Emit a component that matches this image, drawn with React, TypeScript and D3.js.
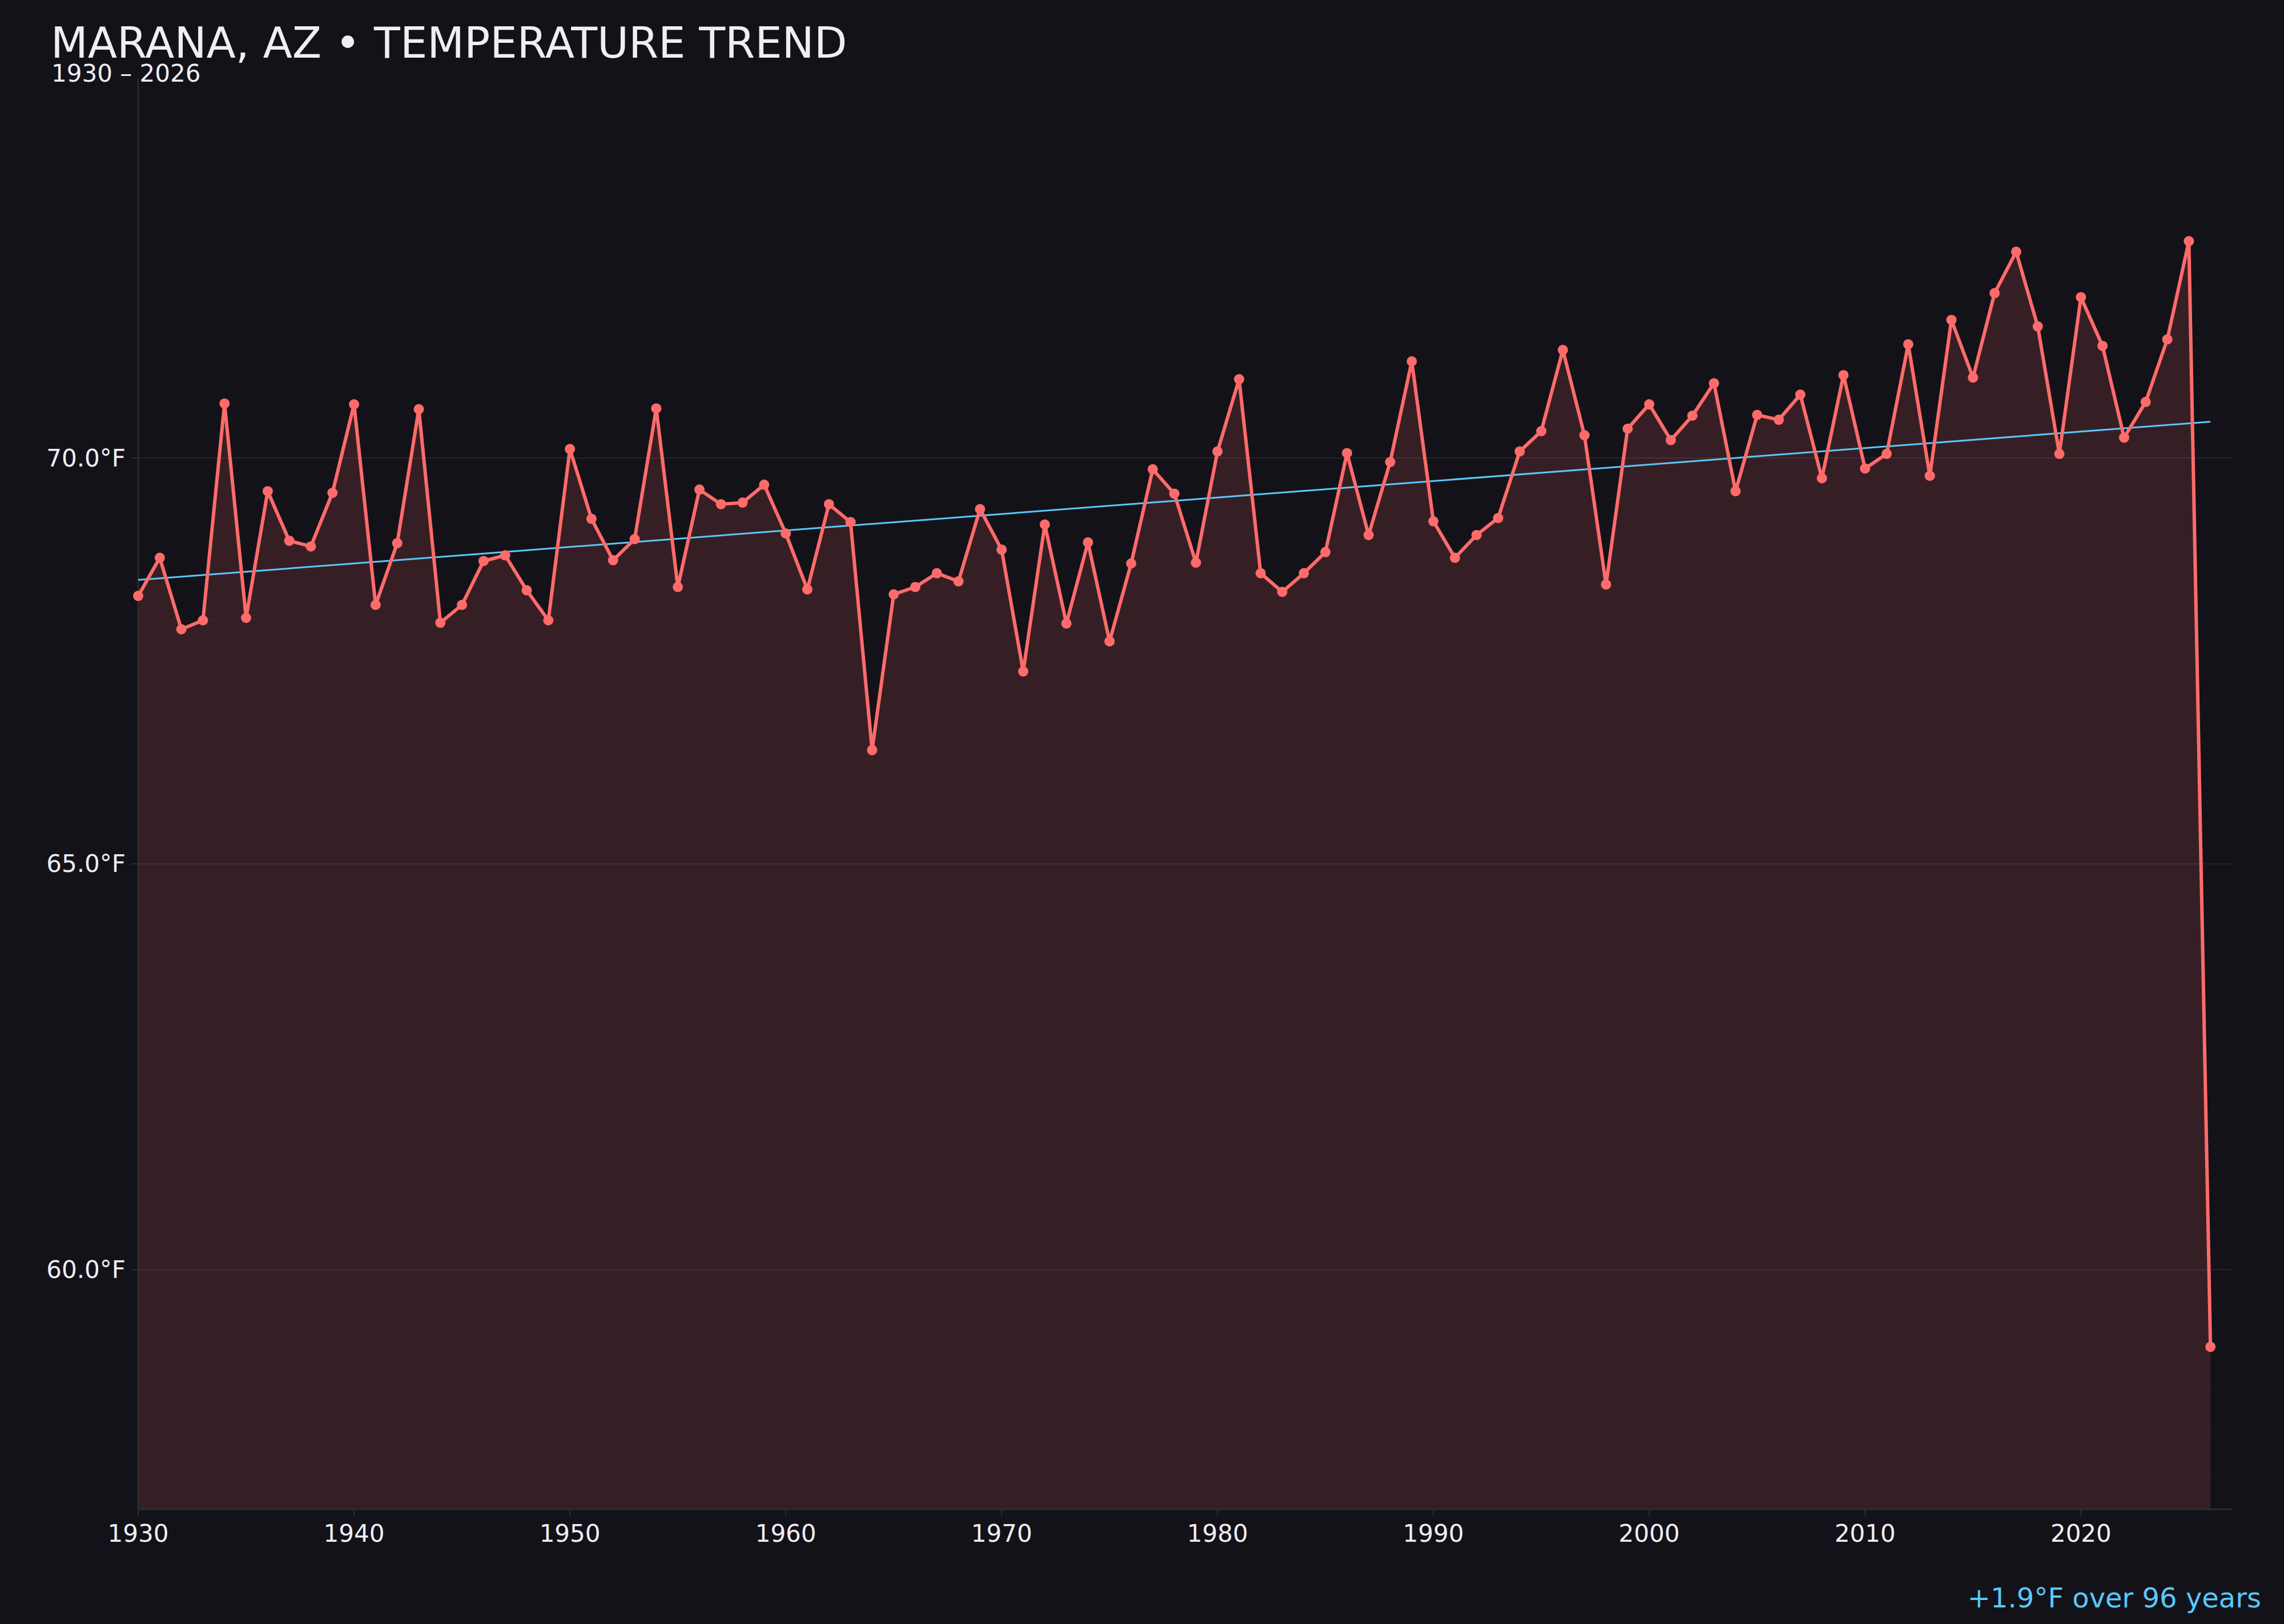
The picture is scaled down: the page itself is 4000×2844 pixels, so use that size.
import React from 'react';
import * as d3 from 'd3';

// annual mean temperature, Marana AZ (°F), one value per year from firstYear
const firstYear = 1930;
const temps = [
  68.3, 68.77, 67.89, 68.0, 70.67, 68.03, 69.59, 68.98, 68.91, 69.57, // 1930s
  70.66, 68.19, 68.95, 70.6, 67.97, 68.19, 68.73, 68.8, 68.37, 68.0, // 1940s
  70.11, 69.25, 68.74, 69.0, 70.61, 68.41, 69.61, 69.43, 69.45, 69.67, // 1950s
  69.07, 68.38, 69.43, 69.21, 66.4, 68.32, 68.41, 68.58, 68.48, 69.37, // 1960s
  68.87, 67.37, 69.18, 67.96, 68.96, 67.74, 68.7, 69.86, 69.56, 68.71, // 1970s
  70.08, 70.97, 68.58, 68.35, 68.58, 68.84, 70.06, 69.05, 69.95, 71.19, // 1980s
  69.22, 68.77, 69.05, 69.26, 70.08, 70.33, 71.33, 70.28, 68.44, 70.36, // 1990s
  70.66, 70.22, 70.52, 70.92, 69.59, 70.53, 70.47, 70.78, 69.75, 71.02, // 2000s
  69.87, 70.05, 71.4, 69.78, 71.7, 70.99, 72.03, 72.54, 71.62, 70.05, // 2010s
  71.98, 71.38, 70.25, 70.69, 71.46, 72.67, 59.05, // 2020s
];
const xTicks = [1930, 1940, 1950, 1960, 1970, 1980, 1990, 2000, 2010, 2020];
const yTicks = [60, 65, 70];
const title = 'MARANA, AZ • TEMPERATURE TREND';
const subtitle = '1930 – 2026';
const trendLabel = '+1.9°F over 96 years';

const W = 4000;
const H = 2844;
const margin = { top: 138, right: 91, bottom: 201, left: 242 };

const BG = '#131218';
const LINE = '#ff6b6b';
const TREND = '#5ac8fa';
const TEXT = '#efeef4';
const AXIS = '#2c2b33';

const points = temps.map((t, i) => ({ year: firstYear + i, t }));
const lastYear = points[points.length - 1].year;

export default function App() {
  const x = d3
    .scaleLinear()
    .domain([firstYear, lastYear + 1])
    .range([margin.left, W - margin.right]);

  const tMin = d3.min(temps)!;
  const tMax = d3.max(temps)!;
  const y = d3
    .scaleLinear()
    .domain([tMin - 2, tMax + 2])
    .range([H - margin.bottom, margin.top]);

  const line = d3
    .line<{ year: number; t: number }>()
    .x((d) => x(d.year))
    .y((d) => y(d.t));

  const area = d3
    .area<{ year: number; t: number }>()
    .x((d) => x(d.year))
    .y0(H - margin.bottom)
    .y1((d) => y(d.t));

  // least squares fit over every year
  const mx = d3.mean(points, (d) => d.year)!;
  const my = d3.mean(points, (d) => d.t)!;
  const slope =
    d3.sum(points, (d) => (d.year - mx) * (d.t - my)) /
    d3.sum(points, (d) => (d.year - mx) ** 2);
  const trendAt = (yr: number) => my + slope * (yr - mx);

  const [d0, d1] = y.domain();
  const minorTicks = d3.range(Math.ceil(d0 * 2) / 2, d1, 0.5);

  return (
    <svg
      width={W}
      height={H}
      style={{ position: 'absolute', left: 0, top: 0, display: 'block' }}
      fontFamily="'DejaVu Sans', sans-serif"
    >
      <rect width={W} height={H} fill={BG} />

      {/* faint half-degree grid */}
      {minorTicks.map((v) => (
        <line
          key={`m${v}`}
          x1={margin.left}
          x2={W - margin.right}
          y1={y(v)}
          y2={y(v)}
          stroke="#ffffff"
          strokeOpacity={0.015}
          strokeWidth={2}
        />
      ))}

      <path d={area(points)!} fill={LINE} fillOpacity={0.15} />

      {yTicks.map((v) => (
        <g key={`y${v}`}>
          <line
            x1={margin.left}
            x2={W - margin.right}
            y1={y(v)}
            y2={y(v)}
            stroke="#ffffff"
            strokeOpacity={0.07}
            strokeWidth={2}
          />
          <line x1={margin.left - 12} x2={margin.left} y1={y(v)} y2={y(v)} stroke={AXIS} strokeWidth={2} />
          <text
            x={margin.left - 22}
            y={y(v)}
            dy="0.35em"
            textAnchor="end"
            fontSize={42}
            fill={TEXT}
          >
            {`${v.toFixed(1)}°F`}
          </text>
        </g>
      ))}

      {/* axes */}
      <line x1={margin.left} x2={margin.left} y1={margin.top} y2={H - margin.bottom} stroke={AXIS} strokeWidth={3} />
      <line x1={margin.left} x2={W - margin.right} y1={H - margin.bottom} y2={H - margin.bottom} stroke={AXIS} strokeWidth={3} />
      {xTicks.map((v) => (
        <g key={`x${v}`}>
          <line x1={x(v)} x2={x(v)} y1={H - margin.bottom} y2={H - margin.bottom + 12} stroke={AXIS} strokeWidth={2} />
          <text x={x(v)} y={H - margin.bottom + 57} textAnchor="middle" fontSize={42} fill={TEXT}>
            {v}
          </text>
        </g>
      ))}

      <line
        x1={x(firstYear)}
        x2={x(lastYear)}
        y1={y(trendAt(firstYear))}
        y2={y(trendAt(lastYear))}
        stroke={TREND}
        strokeWidth={3}
      />

      <path d={line(points)!} fill="none" stroke={LINE} strokeWidth={6} strokeLinejoin="round" />
      {points.map((d) => (
        <circle key={d.year} cx={x(d.year)} cy={y(d.t)} r={9} fill={LINE} />
      ))}

      <text x={89} y={101} fontSize={75} fill={TEXT}>
        {title}
      </text>
      <text x={90} y={143} fontSize={42} fill={TEXT}>
        {subtitle}
      </text>
      <text x={3960} y={2815} textAnchor="end" fontSize={48} fill={TREND}>
        {trendLabel}
      </text>
    </svg>
  );
}
